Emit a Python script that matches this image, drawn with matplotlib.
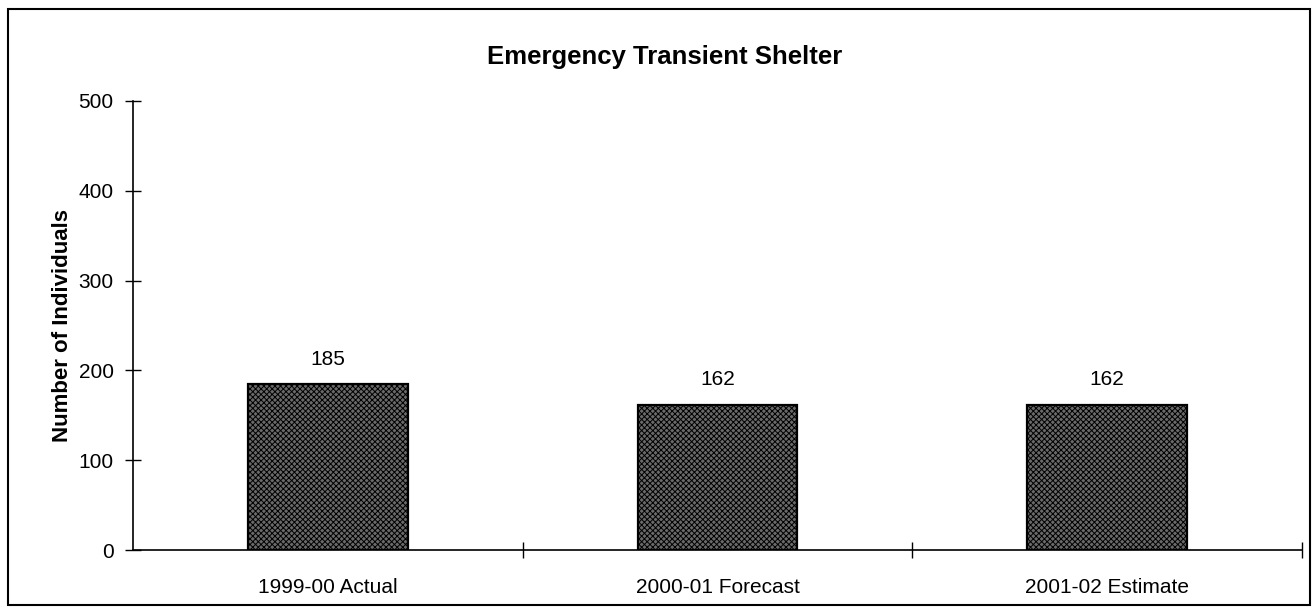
import matplotlib
matplotlib.use("Agg")
import matplotlib.pyplot as plt
from matplotlib.patches import Rectangle

categories = ["1999-00 Actual", "2000-01 Forecast", "2001-02 Estimate"]
values = [185, 162, 162]
yticks = [0, 100, 200, 300, 400, 500]
title = "Emergency Transient Shelter"
ylabel = "Number of Individuals"

plt.rcParams['font.family'] = ['Liberation Sans', 'DejaVu Sans']
plt.rcParams['hatch.color'] = '#e4e4e4'
plt.rcParams['hatch.linewidth'] = 0.7

W, H = 1313, 616
fig = plt.figure(figsize=(W / 100, H / 100), dpi=100)
fig.patches.append(Rectangle((8 / W, 1 - 605 / H), (1310 - 8) / W, (605 - 9) / H,
                             transform=fig.transFigure, fill=False, edgecolor='black',
                             linewidth=1.5))

ax = fig.add_axes([133 / W, 1 - 550 / H, (1302 - 133) / W, (550 - 101) / H])
x = list(range(len(categories)))
ax.bar(x, values, width=0.41, color='#6a6a6a', edgecolor='black', linewidth=1.6,
       hatch='xxxxxx', zorder=2)
for xi, v in zip(x, values):
    ax.text(xi, v + 17, str(v), ha='center', va='bottom', fontsize=15)

ax.set_xlim(-0.5, len(categories) - 0.5)
ax.set_ylim(0, 500)
ax.set_yticks(yticks)
ax.set_yticklabels([str(t) for t in yticks], fontsize=15)
ax.set_xticks([i + 0.5 for i in range(len(categories))])
ax.set_xticklabels([])
ax.set_xticks(x, minor=True)
ax.set_xticklabels(categories, minor=True, fontsize=15)
ax.tick_params(axis='x', which='minor', length=0, pad=20)
ax.tick_params(axis='x', which='major', direction='inout', length=12, width=1)
ax.tick_params(axis='y', direction='inout', length=12, width=1, pad=8)
for s in ['top', 'right']:
    ax.spines[s].set_visible(False)
ax.spines['left'].set_linewidth(1.2)
ax.spines['bottom'].set_linewidth(1.2)

ax.set_ylabel(ylabel, fontsize=16, fontweight='bold', labelpad=4)
fig.text(665 / W, 1 - 57 / H, title, ha='center', va='center',
         fontsize=18.5, fontweight='bold')

fig.savefig("out.png", dpi=100)
